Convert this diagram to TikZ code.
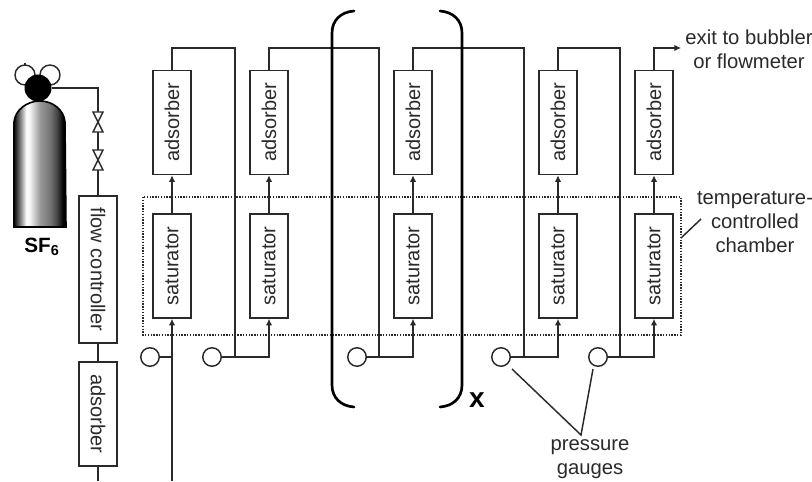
\documentclass[tikz,border=0pt]{standalone}
\usepackage{fontspec}
\setmainfont{Liberation Sans}
\usetikzlibrary{arrows.meta}
\definecolor{ink}{HTML}{2A2A2A}
\pgfdeclarehorizontalshading{cyl}{100bp}{
 color(0bp)=(black!90); color(26bp)=(black!90); color(31bp)=(black!50); color(37bp)=(white); color(40bp)=(black!4);
 color(50bp)=(black!40); color(60bp)=(black!55); color(66bp)=(black!72); color(72.5bp)=(black); color(100bp)=(black)}
\newlength{\pxu}\setlength{\pxu}{0.75pt}
\newcommand{\ru}[1]{\rotatebox{90}{#1}}
\newcommand{\rd}[1]{\rotatebox{-90}{#1}}
\tikzset{
 pipe/.style={draw=ink,line width=1.2pt},
 flowarrow/.style={pipe,-{Latex[length=5pt,width=5pt]}},
 vessel/.style={draw=ink,line width=1.2pt,fill=white,inner sep=0pt,minimum width=38\pxu,minimum height=104\pxu,text=ink,font=\fontsize{15pt}{15pt}\selectfont},
 gauge/.style={circle,draw=ink,line width=1.1pt,fill=white,inner sep=0pt,minimum size=18.5\pxu},
 label/.style={text=ink,font=\fontsize{15.2pt}{18pt}\selectfont,align=center,inner sep=0pt},
 leader/.style={draw=ink,line width=1.1pt},
 bracket/.style={draw=black,line width=2pt,line cap=round},
 bowtie/.style={draw=ink,line width=1.1pt,fill=white,line join=miter},
}
\begin{document}
\begin{tikzpicture}[x=0.75pt,y=-0.75pt]
\useasboundingbox (0,0) rectangle (812,481);
% chamber
\draw[ink,line width=1pt,dash pattern=on 1pt off 1.1pt] (143,197) rectangle (681,335);
% vessels
\foreach \n/\x in {1/172,2/269,3/413,4/558,5/654}{
 \node[vessel] (ad\n) at (\x,122.5) {\ru{adsorber}};
 \node[vessel] (sat\n) at (\x,266) {\ru{saturator}};
 \draw[flowarrow] (sat\n.north) -- (ad\n.south);
}
\node[vessel,minimum height=147\pxu] (fc) at (98,269.5) {\rd{flow controller}};
\node[vessel] (adl) at (98,414) {\rd{adsorber}};
% gauges
\node[gauge] (g1) at (150,357) {};
\node[gauge] (g2) at (212,357) {};
\node[gauge] (g3) at (357,357) {};
\node[gauge] (g4) at (501,357) {};
\node[gauge] (g5) at (598,357) {};
% riser tops
\coordinate (r1) at (235,48);
\coordinate (r2) at (379,48);
\coordinate (r3) at (524,48);
\coordinate (r4) at (620,48);
\coordinate (exit) at (681,48);
\draw[pipe] (ad1.north) |- (r1) -- (r1 |- g2);
\draw[pipe] (ad2.north) |- (r2) -- (r2 |- g3);
\draw[pipe] (ad3.north) |- (r3) -- (r3 |- g4);
\draw[pipe] (ad4.north) |- (r4) -- (r4 |- g5);
\draw[flowarrow] (ad5.north) |- (exit);
\foreach \n in {2,3,4,5}{ \draw[flowarrow] (g\n.east) -| (sat\n.south); }
\coordinate (feed) at (172,481);
\draw[flowarrow] (feed) -- (sat1.south);
\draw[pipe] (g1.east) -- (g1 -| sat1.south);
\coordinate (outl) at (98,481);
\draw[pipe] (fc.south) -- (adl.north);
\draw[pipe] (adl.south) -- (outl);
% cylinder
\draw[black,line width=1.2pt,shading=cyl] (14,227) -- (14,122) .. controls (15,110) and (27,101) .. (40,101) .. controls (53,101) and (64,110) .. (65,122) -- (66,227) -- cycle;
\node[circle,draw=ink,line width=1.1pt,inner sep=0pt,minimum size=20\pxu] (d1) at (25,75) {};
\node[circle,draw=ink,line width=1.1pt,inner sep=0pt,minimum size=20\pxu] (d2) at (50,75) {};
\draw[ink,line width=1.1pt] (25,65) -- (25,63.5);
\node[circle,fill=black,inner sep=0pt,minimum size=27\pxu] (reg) at (38,88) {};
\coordinate (v1) at (98,122);
\coordinate (v2) at (98,160);
\draw[pipe] (reg.east) -| (fc.north);
\foreach \v in {v1,v2}{
 \draw[bowtie] ([shift={(-5,-10)}]\v) -- ([shift={(5,-10)}]\v) -- ([shift={(-5,10)}]\v) -- ([shift={(5,10)}]\v) -- cycle;
}
% brackets
\coordinate (bl1) at (354,11); \coordinate (bl2) at (354,407);
\coordinate (br1) at (440,11); \coordinate (br2) at (440,407);
\draw[bracket] (bl1) .. controls (341,12) and (332,20) .. (332,33) -- (332,385) .. controls (332,398) and (341,406) .. (bl2);
\draw[bracket] (br1) .. controls (453,12) and (462,20) .. (462,33) -- (462,385) .. controls (462,398) and (453,406) .. (br2);
% labels
\node[text=black,font=\bfseries\fontsize{15.5pt}{16pt}\selectfont,inner sep=0pt] (sf) at (42,247) {SF\textsubscript{6}};
\node[text=black,font=\bfseries\fontsize{21pt}{22pt}\selectfont,inner sep=0pt] (xl) at (477,400) {x};
\node[label] (exl) at (749,49.5) {exit to bubbler\\or flowmeter};
\node[label] (tl) at (755,222) {temperature-\\controlled\\chamber};
\node[label] (pl) at (590,459.5) {pressure\\gauges};
\coordinate (c1) at (681,238); \coordinate (c2) at (701,219);
\draw[leader] (c1) -- (c2);
\coordinate (pj) at (581,435);
\coordinate (p1) at (512,369); \coordinate (p2) at (593,369);
\draw[leader] (p1) -- (pj) -- (p2);
\end{tikzpicture}
\end{document}
